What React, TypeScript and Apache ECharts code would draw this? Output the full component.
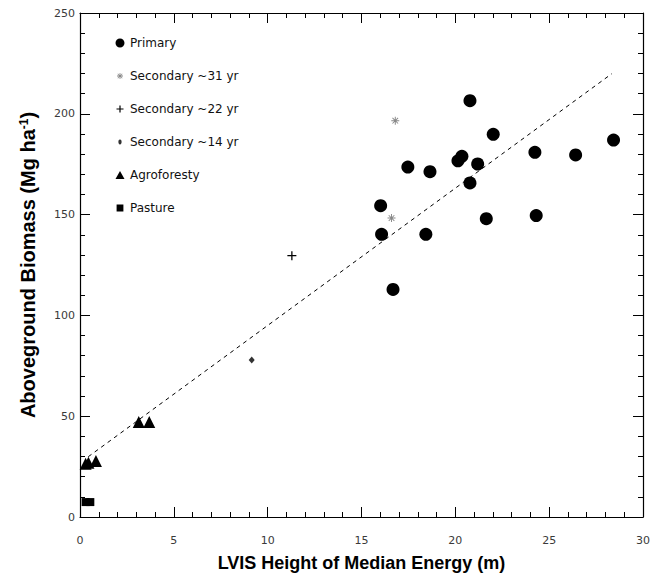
import React, { useEffect, useRef } from "react";
import * as echarts from "echarts";

// ---- data ----
const primaryX = [16.02, 16.07, 16.68, 17.47, 18.43, 18.65, 20.14, 20.35, 20.78, 20.78, 21.19, 21.65, 22.02, 24.24, 24.31, 26.41, 28.43];
const primaryY = [154.4, 140.2, 112.9, 173.6, 140.2, 171.3, 176.7, 178.9, 206.5, 165.7, 175.1, 148.0, 189.8, 180.9, 149.5, 179.6, 187.0];

const sec31X = [16.8, 16.6];
const sec31Y = [196.6, 148.3];

const sec22X = [11.29];
const sec22Y = [129.6];

const sec14X = [9.15];
const sec14Y = [77.9];

const agroX = [0.3, 0.45, 0.85, 3.13, 3.69];
const agroY = [26.4, 26.9, 27.8, 47.1, 47.1];

const pastureX = [0.3, 0.55];
const pastureY = [7.4, 7.4];

const fitX = [0.44, 28.34];
const fitY = [29.9, 219.9];

const seriesNames = [
  "Primary",
  "Secondary ~31 yr",
  "Secondary ~22 yr",
  "Secondary ~14 yr",
  "Agroforesty",
  "Pasture",
];

const xTicks = { min: 0, max: 30, interval: 5 };
const yTicks = { min: 0, max: 250, interval: 50 };

const zip = (xs: number[], ys: number[]) => xs.map((x, i) => [x, ys[i]]);

const ASTERISK =
  "path://M4.4 0 L5.6 0 L5.6 10 L4.4 10 Z M0 4.4 L10 4.4 L10 5.6 L0 5.6 Z M1.9 1.1 L8.9 8.1 L8.1 8.9 L1.1 1.9 Z M8.1 1.1 L8.9 1.9 L1.9 8.9 L1.1 8.1 Z";
const PLUS =
  "path://M4.3 0 L5.7 0 L5.7 4.3 L10 4.3 L10 5.7 L5.7 5.7 L5.7 10 L4.3 10 L4.3 5.7 L0 5.7 L0 4.3 L4.3 4.3 Z";

// legend icons: same shapes, drawn smaller inside a 10x10 box (tiny corner specks fix the box)
const BOX = " M0 0 L0.01 0 L0.01 0.01 Z M9.99 9.99 L10 9.99 L10 10 Z";
const LEG_CIRCLE =
  "path://M5 0.5 C7.5 0.5 9.5 2.5 9.5 5 C9.5 7.5 7.5 9.5 5 9.5 C2.5 9.5 0.5 7.5 0.5 5 C0.5 2.5 2.5 0.5 5 0.5 Z" + BOX;
const LEG_ASTERISK =
  "path://M4.6 2 L5.4 2 L5.4 8 L4.6 8 Z M2 4.6 L8 4.6 L8 5.4 L2 5.4 Z M3 2.5 L7.5 7 L7 7.5 L2.5 3 Z M7 2.5 L7.5 3 L3 7.5 L2.5 7 Z" + BOX;
const LEG_PLUS =
  "path://M4.4 1.5 L5.6 1.5 L5.6 4.4 L8.5 4.4 L8.5 5.6 L5.6 5.6 L5.6 8.5 L4.4 8.5 L4.4 5.6 L1.5 5.6 L1.5 4.4 L4.4 4.4 Z" + BOX;
const LEG_DOT =
  "path://M5 2.6 C6.3 2.6 6.6 4 6.6 5 C6.6 6 6.3 7.4 5 7.4 C3.7 7.4 3.4 6 3.4 5 C3.4 4 3.7 2.6 5 2.6 Z" + BOX;
const LEG_TRIANGLE = "path://M5 1 L9.5 9 L0.5 9 Z" + BOX;
const LEG_SQUARE = "path://M1.6 1.6 L8.4 1.6 L8.4 8.4 L1.6 8.4 Z" + BOX;

export default function App() {
  const ref = useRef<HTMLDivElement>(null);

  useEffect(() => {
    if (!ref.current) return;
    const chart = echarts.init(ref.current, undefined, { renderer: "svg" });

    const tickLabel = {
      fontFamily: "DejaVu Sans",
      fontSize: 11,
      color: "#3a3a3a",
    };
    const axisBase = {
      type: "value" as const,
      splitLine: { show: false },
      axisLine: { show: true, onZero: false, lineStyle: { color: "#000", width: 1.2 } },
      minorTick: { show: true, splitNumber: 5, length: 5, lineStyle: { color: "#000", width: 1 } },
      axisTick: { show: true, inside: true, length: 10, lineStyle: { color: "#000", width: 1 } },
    };

    const titleFont = {
      fontFamily: "Liberation Sans, Arial, sans-serif",
      fontWeight: "bold" as const,
      color: "#000",
    };

    chart.setOption({
      animation: false,
      backgroundColor: "#fff",
      grid: { left: 80, right: 25, top: 13, bottom: 56, containLabel: false, outerBoundsMode: "none" },
      legend: {
        orient: "vertical",
        left: 110,
        top: 32,
        itemGap: 21,
        itemWidth: 10,
        itemHeight: 10,
        data: [
          { name: seriesNames[0], icon: LEG_CIRCLE },
          { name: seriesNames[1], icon: LEG_ASTERISK },
          { name: seriesNames[2], icon: LEG_PLUS },
          { name: seriesNames[3], icon: LEG_DOT },
          { name: seriesNames[4], icon: LEG_TRIANGLE },
          { name: seriesNames[5], icon: LEG_SQUARE },
        ],
        textStyle: { fontFamily: "DejaVu Sans", fontSize: 12, color: "#111" },
      },
      xAxis: [
        {
          ...axisBase,
          ...xTicks,
          position: "bottom",
          axisLabel: { ...tickLabel, margin: 18 },
          name: "LVIS Height of Median Energy (m)",
          nameLocation: "middle",
          nameGap: 37,
          nameTextStyle: { ...titleFont, fontSize: 18 },
        },
        {
          ...axisBase,
          ...xTicks,
          position: "top",
          axisLabel: { show: false },
        },
      ],
      yAxis: [
        {
          ...axisBase,
          ...yTicks,
          position: "left",
          axisLabel: { ...tickLabel, margin: 5 },
          name: "{a|Aboveground Biomass (Mg ha}{s|-1}{a|)}",
          nameLocation: "middle",
          nameGap: 42,
          nameTextStyle: {
            ...titleFont,
            fontSize: 20,
            rich: {
              a: { ...titleFont, fontSize: 20 },
              s: { ...titleFont, fontSize: 12, verticalAlign: "top", lineHeight: 12 },
            },
          },
        },
        {
          ...axisBase,
          ...yTicks,
          position: "right",
          axisLabel: { show: false },
        },
      ],
      series: [
        {
          name: "Fit",
          type: "line",
          data: zip(fitX, fitY),
          symbol: "none",
          lineStyle: { color: "#000", width: 1, type: [4, 4] },
          silent: true,
          z: 1,
        },
        {
          name: seriesNames[0],
          type: "scatter",
          data: zip(primaryX, primaryY),
          symbol: "circle",
          symbolSize: 13,
          itemStyle: { color: "#000", opacity: 1 },
          z: 3,
        },
        {
          name: seriesNames[1],
          type: "scatter",
          data: zip(sec31X, sec31Y),
          symbol: ASTERISK,
          symbolSize: 8,
          itemStyle: { color: "#888", opacity: 1 },
          z: 3,
        },
        {
          name: seriesNames[2],
          type: "scatter",
          data: zip(sec22X, sec22Y),
          symbol: PLUS,
          symbolSize: 9,
          itemStyle: { color: "#000", opacity: 1 },
          z: 3,
        },
        {
          name: seriesNames[3],
          type: "scatter",
          data: zip(sec14X, sec14Y),
          symbol: "diamond",
          symbolSize: [6, 7],
          itemStyle: { color: "#333", opacity: 1 },
          z: 3,
        },
        {
          name: seriesNames[4],
          type: "scatter",
          data: zip(agroX, agroY),
          symbol: "triangle",
          symbolSize: 12,
          itemStyle: { color: "#000", opacity: 1 },
          z: 3,
        },
        {
          name: seriesNames[5],
          type: "scatter",
          data: zip(pastureX, pastureY),
          symbol: "rect",
          symbolSize: [8, 8],
          itemStyle: { color: "#000", opacity: 1 },
          z: 3,
        },
      ],
    });

    return () => chart.dispose();
  }, []);

  return (
    <div
      ref={ref}
      style={{ position: "fixed", left: 0, top: 0, width: 668, height: 573, background: "#fff" }}
    />
  );
}
